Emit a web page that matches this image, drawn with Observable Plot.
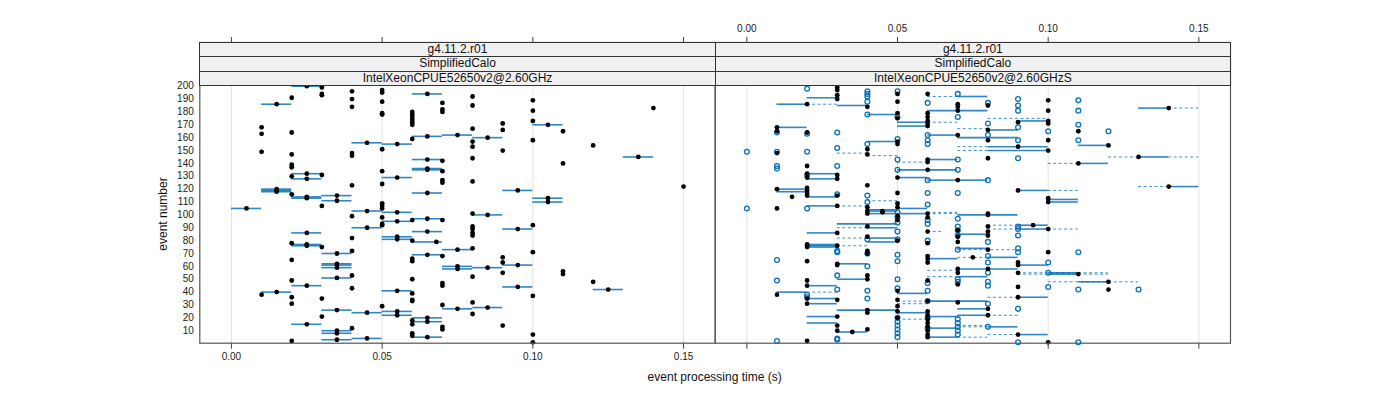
<!DOCTYPE html>
<html>
<head>
<meta charset="utf-8">
<script src="https://cdn.jsdelivr.net/npm/d3@7"></script>
<script src="https://cdn.jsdelivr.net/npm/@observablehq/plot@0.6"></script>
<style>
  html, body { margin: 0; padding: 0; background: #fff; }
  #wrap { position: relative; width: 1400px; height: 400px; font-family: "Liberation Sans", Arial, sans-serif; }
  #wrap svg { position: absolute; left: 0; top: 0; background: transparent; }
  .strip { position: absolute; box-sizing: border-box; background: #f0f0f0; border: 1px solid #333;
           font-size: 12px; line-height: 12px; text-align: center; color: #111; white-space: nowrap; overflow: hidden; }
  .title { position: absolute; font-size: 12px; color: #111; white-space: nowrap; }
</style>
</head>
<body>
<div id="wrap"></div>
<script>
// ---------------- data ----------------
const stripLabels = ["g4.11.2.r01", "SimplifiedCalo"];
const panelLabels = ["IntelXeonCPUE52650v2@2.60GHz", "IntelXeonCPUE52650v2@2.60GHzS"];
const xTicks = [0, 0.05, 0.10, 0.15];
const yTicks = d3.range(10, 201, 10);
const xLabel = "event processing time (s)";
const yLabel = "event number";

// left panel: single-value dots [event, time]
const leftPoints = [
  [199,0.03],[191,0.02],[194,0.03],[193,0.03],[196,0.04],[190,0.04],[184,0.04],
  [197,0.05],[195,0.05],[188,0.05],[179,0.05],[178,0.05],
  [187,0.07],[182,0.07],[180,0.07],
  [180,0.06],[178,0.06],[176,0.06],[174,0.06],[172,0.06],[170,0.06],[159,0.06],
  [168,0.01],[163,0.01],[149,0.01],[164,0.02],[151,0.05],
  [147,0.02],[139,0.02],[137,0.02],[148,0.04],[146,0.04],[142,0.07],
  [134,0.07],[127,0.07],[125,0.07],[131,0.03],[130,0.02],[134,0.05],[124,0.05],[123,0.04],
  [116,0.02],[107,0.03],[109,0.05],[107,0.05],[105,0.05],[99,0.04],[98,0.05],[96,0.07],
  [192,0.08],[185,0.08],[167,0.08],[157,0.08],[153,0.08],[144,0.08],[126,0.08],[101,0.08],
  [171,0.09],[166,0.09],[150,0.09],
  [189,0.10],[181,0.10],[173,0.10],[158,0.10],
  [165,0.11],[140,0.11],[154,0.12],[183,0.14],[122,0.15],
  [93,0.05],[92,0.05],[96,0.06],[82,0.04],[80,0.06],[78,0.02],[75,0.03],[72,0.04],[68,0.07],
  [65,0.02],[66,0.06],[64,0.06],[53,0.04],[49,0.02],[43,0.04],[38,0.01],[50,0.06],[47,0.07],[45,0.07],[39,0.06],
  [36,0.02],[31,0.02],[35,0.03],[34,0.06],[33,0.06],[30,0.07],[29,0.05],[21,0.03],[18,0.06],[15,0.06],
  [13,0.07],[11,0.07],[12,0.04],[2,0.02],[8,0.06],[6,0.06],
  [92,0.10],[91,0.08],[89,0.08],[86,0.08],[84,0.08],[74,0.08],[71,0.10],[67,0.09],[63,0.09],[55,0.09],[52,0.08],
  [56,0.11],[54,0.11],[48,0.12],[37,0.10],[32,0.08],[23,0.08],[14,0.09],[7,0.10],[1,0.10]
];
// left panel: ranges [event, min, max, mean]
const leftRanges = [
  [200,0.02,0.03,0.025],[186,0.01,0.02,0.015],[194,0.06,0.07,0.065],[161,0.06,0.07,0.065],[162,0.07,0.08,0.075],
  [156,0.04,0.05,0.045],[155,0.05,0.06,0.055],[143,0.06,0.07,0.065],[136,0.06,0.07,0.065],[135,0.06,0.07,0.065],
  [132,0.02,0.03,0.025],[128,0.02,0.03,0.025],[129,0.05,0.06,0.055],[120,0.01,0.02,0.015],[119,0.01,0.02,0.015],[118,0.01,0.02,0.015],
  [117,0.06,0.07,0.065],[114,0.02,0.03,0.025],[113,0.02,0.03,0.025],[115,0.03,0.04,0.035],[111,0.03,0.04,0.035],
  [105,0,0.01,0.005],[103,0.04,0.05,0.045],[102,0.05,0.06,0.055],[97,0.06,0.07,0.065],
  [160,0.08,0.09,0.085],[170,0.10,0.11,0.105],[145,0.13,0.14,0.135],[119,0.09,0.10,0.095],[113,0.10,0.11,0.105],[110,0.10,0.11,0.105],[100,0.08,0.09,0.085],
  [95,0.05,0.06,0.055],[90,0.04,0.05,0.045],[86,0.02,0.03,0.025],[87,0.06,0.07,0.065],[83,0.05,0.06,0.055],[81,0.05,0.06,0.055],
  [79,0.06,0.07,0.068],[77,0.02,0.03,0.025],[76,0.02,0.03,0.025],[70,0.03,0.04,0.035],[69,0.06,0.07,0.065],[73,0.07,0.08,0.075],
  [62,0.03,0.04,0.035],[61,0.03,0.04,0.035],[59,0.03,0.04,0.035],[51,0.03,0.04,0.035],[45,0.02,0.03,0.025],[40,0.01,0.02,0.015],
  [41,0.05,0.06,0.055],[27,0.07,0.08,0.075],[26,0.03,0.04,0.035],[24,0.04,0.05,0.045],[25,0.05,0.06,0.055],[22,0.05,0.06,0.055],
  [20,0.06,0.07,0.065],[17,0.06,0.07,0.065],[15,0.02,0.03,0.025],[10,0.03,0.04,0.035],[8,0.03,0.04,0.035],[3,0.03,0.04,0.035],[4,0.04,0.05,0.045],[5,0.06,0.07,0.065],
  [89,0.09,0.10,0.095],[61,0.09,0.10,0.095],[60,0.07,0.08,0.075],[58,0.07,0.08,0.075],[59,0.08,0.09,0.085],[42,0.12,0.13,0.125],[44,0.09,0.10,0.095],[28,0.08,0.09,0.085]
];

// right panel: filled dots [event, time]
const rightDots = [
  [199,0.03],[197,0.03],[193,0.03],[190,0.03],[184,0.04],[194,0.05],[188,0.05],[194,0.06],
  [186,0.07],[184,0.07],[181,0.07],[186,0.02],[179,0.05],[175,0.05],
  [179,0.06],[176,0.06],[173,0.06],[171,0.06],[169,0.06],[162,0.07],
  [168,0.01],[165,0.01],[164,0.02],[148,0.01],[151,0.04],[147,0.04],[157,0.05],[155,0.05],
  [143,0.06],[141,0.06],[138,0.02],[132,0.02],[129,0.02],[131,0.03],[128,0.03],[135,0.06],[129,0.05],[127,0.07],
  [123,0.04],[117,0.05],[120,0.01],[121,0.02],[119,0.02],[117,0.02],[115,0.02],[114,0.015],[115,0.03],
  [106,0.04],[101,0.04],[103,0.045],[109,0.05],[106,0.05],[105,0.01],[107,0.03],
  [185,0.08],[189,0.10],[181,0.10],[172,0.09],[173,0.10],[171,0.10],[166,0.08],[158,0.08],[158,0.10],[165,0.11],
  [153,0.09],[150,0.10],[154,0.12],[144,0.08],[140,0.11],[145,0.13],[183,0.14],[119,0.09],[122,0.14],[113,0.10],[110,0.10],[101,0.08],
  [103,0.04],[102,0.045],[99,0.05],[96,0.05],[101,0.06],[98,0.06],[91,0.04],[88,0.07],[83,0.07],[79,0.07],[86,0.03],[87,0.06],[83,0.04],[80,0.05],
  [77,0.02],[76,0.02],[75,0.02],[76,0.03],[78,0.06],[72,0.04],[70,0.04],[64,0.02],[68,0.06],[66,0.06],[63,0.06],[62,0.03],[61,0.03],
  [58,0.07],[55,0.07],[53,0.04],[50,0.04],[49,0.02],[45,0.02],[46,0.07],[49,0.06],[38,0.01],[35,0.02],[31,0.02],[34,0.03],[41,0.05],[34,0.05],[33,0.06],[32,0.07],
  [26,0.04],[24,0.04],[29,0.05],[21,0.03],[14,0.03],[10,0.03],[9,0.035],[11,0.04],[2,0.02],[25,0.05],[20,0.05],
  [25,0.06],[22,0.06],[19,0.06],[16,0.06],[13,0.06],[10,0.06],[7,0.06],[5,0.06],
  [100,0.08],[92,0.095],[89,0.10],[91,0.08],[87,0.08],[84,0.08],[73,0.08],[67,0.075],[71,0.10],[58,0.08],[63,0.09],[61,0.09],[55,0.09],
  [54,0.11],[48,0.12],[44,0.09],[42,0.12],[36,0.09],[27,0.08],[22,0.08],[7,0.09],[1,0.10]
];
// right panel: open circles [event, time]
const rightOpen = [
  [198,0.02],[196,0.04],[194,0.04],[192,0.04],[188,0.04],[196,0.05],[187,0.06],[194,0.07],[178,0.04],[176,0.05],[176,0.07],[162,0.06],
  [164,0.01],[163,0.02],[164,0.03],[149,0.00],[149,0.01],[149,0.02],[152,0.03],[155,0.04],[159,0.05],[158,0.06],[155,0.06],
  [143,0.05],[143,0.07],[138,0.01],[136,0.01],[138,0.03],[131,0.02],[135,0.05],[135,0.07],[127,0.06],[117,0.06],[117,0.07],[116,0.03],
  [115,0.04],[110,0.04],[102,0.05],[105,0.00],[105,0.02],[108,0.06],
  [187,0.08],[190,0.09],[185,0.09],[181,0.09],[189,0.11],[181,0.11],[171,0.08],[168,0.09],[165,0.10],[170,0.11],[162,0.08],[158,0.09],[158,0.11],[165,0.12],[144,0.09],[127,0.08],
  [98,0.05],[94,0.05],[96,0.06],[93,0.06],[97,0.07],[91,0.07],[88,0.07],[84,0.07],[87,0.05],[81,0.04],[81,0.05],[80,0.06],
  [72,0.03],[71,0.03],[70,0.04],[65,0.01],[69,0.05],[64,0.05],[73,0.07],[60,0.04],[53,0.03],[50,0.07],[48,0.07],[49,0.01],[50,0.05],[47,0.06],[41,0.06],
  [38,0.02],[36,0.02],[42,0.03],[41,0.04],[35,0.04],[43,0.05],[33,0.06],[4,0.03],[3,0.03],[2,0.01],
  [20,0.05],[17,0.05],[14,0.05],[11,0.05],[8,0.05],[5,0.05],[20,0.06],[12,0.06],[19,0.07],[16,0.07],[13,0.07],[10,0.07],[7,0.07],
  [91,0.09],[89,0.09],[84,0.09],[79,0.08],[74,0.09],[71,0.09],[68,0.08],[71,0.11],[63,0.08],[55,0.08],[63,0.10],[55,0.10],[48,0.08],[45,0.08],
  [44,0.10],[42,0.11],[42,0.13],[31,0.08],[27,0.09],[13,0.08],[1,0.09],[1,0.11]
];
// right panel: solid ranges [event, from, to]
const rightSolid = [
  [191,0.02,0.03],[185,0.03,0.04],[192,0.07,0.08],[186,0.01,0.02],[178,0.04,0.05],[172,0.05,0.06],[169,0.05,0.06],[181,0.06,0.08],[162,0.06,0.07],
  [168,0.01,0.02],[157,0.04,0.05],[143,0.06,0.07],[132,0.02,0.03],[128,0.02,0.03],[135,0.05,0.07],[129,0.05,0.06],[127,0.06,0.07],
  [120,0.01,0.02],[118,0.01,0.02],[114,0.02,0.03],[104,0.04,0.05],[101,0.04,0.05],[107,0.02,0.03],[105,0.05,0.06],
  [173,0.09,0.10],[166,0.08,0.09],[160,0.07,0.09],[153,0.08,0.10],[150,0.08,0.10],[154,0.11,0.12],[140,0.11,0.12],[145,0.13,0.14],[127,0.07,0.08],
  [119,0.09,0.10],[122,0.14,0.15],[112,0.10,0.11],[110,0.10,0.11],[183,0.13,0.14],[100,0.07,0.09],
  [103,0.04,0.05],[101,0.05,0.06],[93,0.03,0.05],[90,0.04,0.05],[85,0.07,0.08],[86,0.02,0.03],[82,0.04,0.05],[79,0.04,0.05],[77,0.02,0.03],[76,0.02,0.03],[75,0.02,0.03],
  [66,0.06,0.07],[74,0.07,0.08],[62,0.03,0.04],[58,0.07,0.09],[50,0.03,0.04],[45,0.02,0.03],[40,0.01,0.02],[35,0.02,0.03],[31,0.02,0.03],[39,0.05,0.06],[33,0.06,0.08],
  [26,0.03,0.05],[24,0.05,0.06],[21,0.02,0.03],[16,0.02,0.03],[9,0.03,0.04],[21,0.06,0.07],[12,0.06,0.07],[5,0.06,0.07],
  [92,0.09,0.10],[89,0.09,0.10],[67,0.08,0.09],[61,0.09,0.10],[55,0.10,0.11],[54,0.10,0.11],[52,0.07,0.08],[48,0.11,0.12],[36,0.09,0.10],
  [27,0.07,0.08],[22,0.07,0.08],[13,0.08,0.09],[7,0.09,0.10]
];
// right panel: dashed ranges [event, from, to]
const rightDashed = [
  [192,0.06,0.07],[186,0.02,0.03],[172,0.06,0.07],[167,0.07,0.08],[148,0.03,0.04],[146,0.04,0.05],[141,0.05,0.06],[111,0.04,0.05],[107,0.03,0.04],[101,0.06,0.07],
  [175,0.08,0.10],[153,0.07,0.08],[150,0.07,0.08],[140,0.10,0.11],[145,0.12,0.13],[145,0.14,0.15],[119,0.10,0.11],[122,0.13,0.14],[183,0.14,0.15],
  [102,0.06,0.07],[90,0.03,0.04],[87,0.06,0.065],[82,0.03,0.04],[76,0.03,0.04],[67,0.07,0.08],[57,0.06,0.07],[52,0.06,0.07],[40,0.02,0.03],
  [33,0.05,0.06],[31,0.05,0.06],[19,0.05,0.06],[14,0.07,0.08],[5,0.07,0.08],
  [92,0.08,0.09],[89,0.08,0.09],[89,0.10,0.11],[73,0.07,0.09],[55,0.09,0.12],[54,0.09,0.12],[48,0.10,0.13],[36,0.08,0.09],[22,0.08,0.09],[13,0.07,0.08],[7,0.08,0.09]
];

// ---------------- layout ----------------
const W = 1400, H = 400;
const panelTop = 42, dataTop = 85.3, panelBottom = 342.7;
const p1L = 199.3, p1R = 714.7, p2L = 714.7, p2R = 1230;
const xDomain = [-0.0105, 0.1605];
const yLow = 0.3, yHigh = 200.3;
const yTopExt = yHigh + (dataTop - panelTop) * (yHigh - yLow) / (panelBottom - dataTop);
const BLUE = "#0a72b8", DASH = "#3f92d2";
const fmt = d3.format(".2f");
const common = {
  width: W, height: H, marginTop: panelTop, marginBottom: H - panelBottom,
  style: {fontFamily: "'Liberation Sans', Arial, sans-serif", fontSize: "10px", color: "#222", background: "transparent", overflow: "visible"},
};

const grid = Plot.ruleX(xTicks, {stroke: "#e4e4e4", strokeWidth: 1});
const frame = Plot.frame({stroke: "#555", strokeWidth: 1.2});

const left = Plot.plot({
  ...common,
  marginLeft: p1L, marginRight: W - p1R,
  x: {domain: xDomain},
  y: {domain: [yLow, yTopExt]},
  marks: [
    grid,
    Plot.ruleY(leftRanges, {y: d => d[0], x1: d => d[1], x2: d => d[2], stroke: BLUE, strokeWidth: 1.6, strokeOpacity: 0.85}),
    Plot.dot(leftRanges, {y: d => d[0], x: d => d[3], r: 2.4, fill: "#000", stroke: "none"}),
    Plot.dot(leftPoints, {y: d => d[0], x: d => d[1], r: 2.4, fill: "#000", stroke: "none"}),
    Plot.axisY(yTicks, {anchor: "left", tickSize: 0, tickPadding: 6, label: null}),
    Plot.axisX(xTicks, {anchor: "bottom", tickSize: 6, tickPadding: 4, tickFormat: fmt, label: null, stroke: "#444"}),
    Plot.axisX(xTicks, {anchor: "top", tickSize: 6, tickFormat: () => "", label: null, stroke: "#444"}),
    frame
  ]
});

const right = Plot.plot({
  ...common,
  marginLeft: p2L, marginRight: W - p2R,
  x: {domain: xDomain},
  y: {domain: [yLow, yTopExt], axis: null},
  marks: [
    grid,
    Plot.ruleY(rightDashed, {y: d => d[0], x1: d => d[1], x2: d => d[2], stroke: DASH, strokeWidth: 1, strokeDasharray: "3,2.5"}),
    Plot.ruleY(rightSolid, {y: d => d[0], x1: d => d[1], x2: d => d[2], stroke: BLUE, strokeWidth: 1.6, strokeOpacity: 0.85}),
    Plot.dot(rightOpen, {y: d => d[0], x: d => d[1], r: 2.4, fill: "white", fillOpacity: 0, stroke: BLUE, strokeWidth: 1.3}),
    Plot.dot(rightDots, {y: d => d[0], x: d => d[1], r: 2.4, fill: "#000", stroke: "none"}),
    Plot.axisX(xTicks, {anchor: "top", tickSize: 6, tickPadding: 5, tickFormat: fmt, label: null, stroke: "#444"}),
    Plot.axisX(xTicks, {anchor: "bottom", tickSize: 6, tickFormat: () => "", label: null, stroke: "#444"}),
    frame
  ]
});

const wrap = document.getElementById("wrap");
wrap.appendChild(left);
wrap.appendChild(right);

// strips (lattice-style panel headers)
const stripH = (dataTop - panelTop) / 3;
[[p1L, p1R, panelLabels[0]], [p2L, p2R, panelLabels[1]]].forEach(([l, r, lab]) => {
  [...stripLabels, lab].forEach((txt, i) => {
    const d = document.createElement("div");
    d.className = "strip";
    d.style.left = l + "px";
    d.style.width = (r - l + 1) + "px";
    d.style.top = (panelTop + i * stripH) + "px";
    d.style.height = (stripH + 1) + "px";
    d.style.lineHeight = (stripH - 1) + "px";
    d.textContent = txt;
    wrap.appendChild(d);
  });
});

// axis titles
const xt = document.createElement("div");
xt.className = "title";
xt.textContent = xLabel;
xt.style.left = ((p1L + p2R) / 2) + "px";
xt.style.top = "370px";
xt.style.transform = "translateX(-50%)";
wrap.appendChild(xt);

const yt = document.createElement("div");
yt.className = "title";
yt.textContent = yLabel;
yt.style.left = "163px";
yt.style.top = ((dataTop + panelBottom) / 2) + "px";
yt.style.transform = "translate(-50%, -50%) rotate(-90deg)";
wrap.appendChild(yt);
</script>
</body>
</html>
